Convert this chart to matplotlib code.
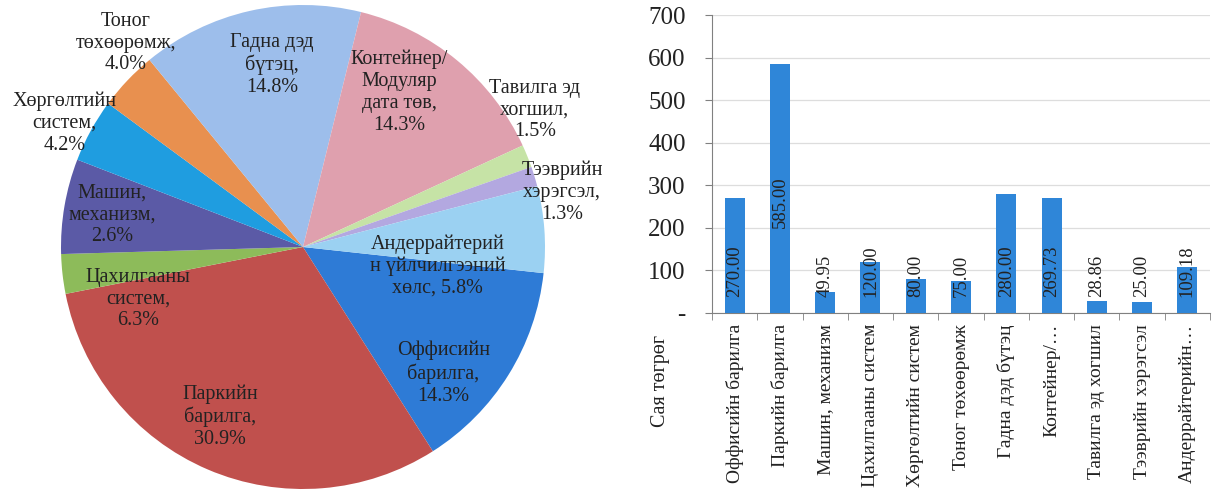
import numpy as np
import matplotlib
matplotlib.use("Agg")
import matplotlib.pyplot as plt

plt.rcParams['font.family'] = ['Liberation Serif', 'DejaVu Serif']

# ---- data ----
categories = ["Оффисийн барилга", "Паркийн барилга", "Машин, механизм",
              "Цахилгааны систем", "Хөргөлтийн систем", "Тоног төхөөрөмж",
              "Гадна дэд бүтэц", "Контейнер/…", "Тавилга эд хогшил",
              "Тээврийн хэрэгсэл", "Андеррайтерийн…"]
values = [270.00, 585.00, 49.95, 120.00, 80.00, 75.00, 280.00, 269.73, 28.86, 25.00, 109.18]
pie_labels = ["Оффисийн\nбарилга,\n{}", "Паркийн\nбарилга,\n{}", "Машин,\nмеханизм,\n{}",
              "Цахилгааны\nсистем,\n{}", "Хөргөлтийн\nсистем,\n{}", "Тоног\nтөхөөрөмж,\n{}",
              "Гадна дэд\nбүтэц,\n{}", "Контейнер/\nМодуляр\nдата төв,\n{}", "Тавилга эд\nхогшил,\n{}",
              "Тээврийн\nхэрэгсэл,\n{}", "Андеррайтерий\nн үйлчилгээний\nхөлс, {}"]
y_ticks = [0, 100, 200, 300, 400, 500, 600, 700]
y_ticklabels = ["-", "100", "200", "300", "400", "500", "600", "700"]

# ---- styling / layout ----
pie_colors = ['#2E7BD6', '#C0504D', '#8DBB5A', '#5B5AA6', '#1F9DE0', '#E8904F',
              '#9DBEEB', '#DFA0AE', '#C6E3A6', '#B3A8E0', '#9BD1F2']
# label placement (angle in degrees, radius as fraction of pie radius)
label_ang = [-42, -116, 170.5, 197.5, 152.5, 131, 99.7, 58.2, 30.6, 12, -8]
label_rad = [0.78, 0.78, 0.80, 0.715, 1.11, 1.116, 0.763, 0.753, 1.113, 1.094, 0.563]
bar_label_base = [38, 200, 38, 38, 38, 38, 38, 38, 38, 38, 38]
text_col = '#222222'

W, H = 1215, 503
fig = plt.figure(figsize=(W / 100, H / 100), dpi=100)

# ===== pie =====
cx, cy, R = 303, 247, 242
ax1 = fig.add_axes([(cx - R) / W, (H - cy - R) / H, 2 * R / W, 2 * R / H])
total = sum(values)
ax1.pie(values, colors=pie_colors, startangle=-6.2, counterclock=False,
        radius=1, wedgeprops=dict(linewidth=0))
for txt, v, a, r in zip(pie_labels, values, label_ang, label_rad):
    pct = f"{v / total * 100:.1f}%"
    ax1.text(r * np.cos(np.radians(a)), r * np.sin(np.radians(a)), txt.format(pct),
             ha='center', va='center', fontsize=14.5, color=text_col, linespacing=1.2)
ax1.set_xlim(-1, 1)
ax1.set_ylim(-1, 1)
ax1.set_aspect('equal')
ax1.axis('off')

# ===== bars =====
ax_l, ax_r, ax_t, ax_b = 712, 1210, 15, 313
ax2 = fig.add_axes([ax_l / W, (H - ax_b) / H, (ax_r - ax_l) / W, (ax_b - ax_t) / H])
x = np.arange(len(values))
ax2.bar(x, values, width=0.44, color='#2F86D8', zorder=3)
for xi, v, b in zip(x, values, bar_label_base):
    ax2.text(xi, b, f"{v:.2f}", rotation=90, ha='center', va='bottom',
             fontsize=13.5, color=text_col, zorder=4)

ax2.set_xlim(-0.5, len(values) - 0.5)
ax2.set_ylim(0, 700)
ax2.set_yticks(y_ticks)
ax2.set_yticklabels(y_ticklabels, fontsize=18, color=text_col)
ax2.set_xticks(x)
ax2.set_xticklabels(categories, rotation=90, fontsize=14, color=text_col)
ax2.set_xticks(np.arange(-0.5, len(values)), minor=True)
ax2.tick_params(axis='x', which='major', length=0, pad=8)
ax2.tick_params(axis='x', which='minor', length=5, color='#808080', direction='out')
ax2.tick_params(axis='y', length=5, color='#808080', pad=14)
ax2.grid(axis='y', color='#dddddd', linewidth=0.9, zorder=0)
for s in ['top', 'right']:
    ax2.spines[s].set_visible(False)
for s in ['left', 'bottom']:
    ax2.spines[s].set_color('#808080')

fig.text(661 / W, (H - 381) / H, "Сая төгрөг", rotation=90, ha='center', va='center',
         fontsize=14.5, color=text_col)

fig.savefig("out.png", dpi=100)
